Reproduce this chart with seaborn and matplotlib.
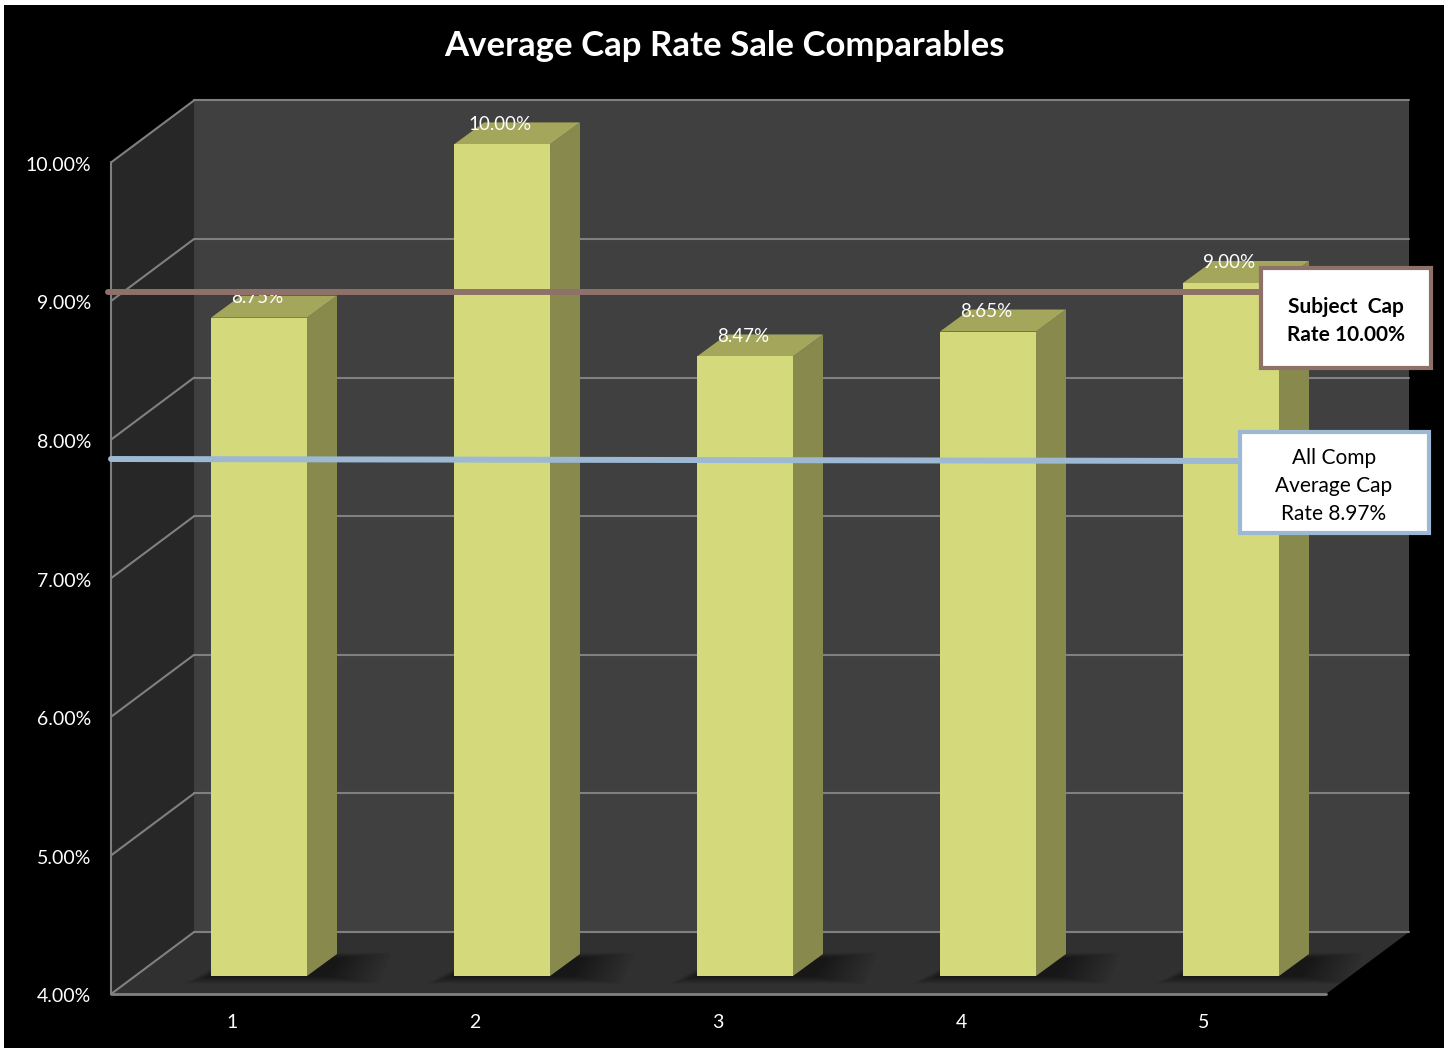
import numpy as np
import pandas as pd
import matplotlib
matplotlib.use("Agg")
import matplotlib.pyplot as plt
from matplotlib.patches import Polygon, Rectangle
from matplotlib.lines import Line2D
import seaborn as sns

# ---- data -------------------------------------------------------------
comps = ["1", "2", "3", "4", "5"]
cap_rates = [8.75, 10.00, 8.47, 8.65, 9.00]
subject_rate = 10.00
y_ticks = [4, 5, 6, 7, 8, 9, 10]
y_tick_labels = ["4.00%", "5.00%", "6.00%", "7.00%", "8.00%", "9.00%", "10.00%"]
title = "Average Cap Rate Sale Comparables"

# ---- styling ----------------------------------------------------------
sns.set_theme(style="white")
plt.rcParams["font.family"] = ["Lato", "DejaVu Sans"]

W, H, DPI = 1448, 1048, 100
FRONT_FACE = "#D4DA7B"
SIDE_FACE = "#878A4C"
TOP_FACE = "#A3A65B"
BACK_WALL = "#404040"
SIDE_WALL = "#272727"
FLOOR = "#303030"
GRID = "#808080"
SUBJ_COL = "#8E7169"
AVG_COL = "#9DB8D2"

# screen scale of the data plane that holds the bar fronts
X0_PX, X_STEP = 259.0, 243.0     # category 0 centre, pixels per category
Y0_PX, Y_STEP = 976.0, 138.6     # base value position, pixels per 1 %
BASE, TOP = 4.0, 10.0
WALL_LO, WALL_HI = -0.51, 4.49


def px(dx, dy_up):
    """Pixel offset -> data offset in the bar plane."""
    return dx / X_STEP, dy_up / Y_STEP


FRONT = px(-24, -18)   # front edge of the floor
BACK = px(59, 44)      # back wall
DEPTH = px(30, 22)     # bar depth

fig = plt.figure(figsize=(W / DPI, H / DPI), dpi=DPI, facecolor="white")
fig.patches.append(Rectangle((4 / W, 0), (1444 - 4) / W, 1 - 5 / H,
                             transform=fig.transFigure, facecolor="black",
                             edgecolor="none", zorder=-10))
ax = fig.add_axes([0, 0, 1, 1])
ax.set_facecolor("none")

df = pd.DataFrame({"comp": comps, "rate": cap_rates})
sns.barplot(data=df, x="comp", y="rate", color=FRONT_FACE, saturation=1,
            width=96 / X_STEP, edgecolor="none", ax=ax, zorder=3)

ax.set_xlim(-X0_PX / X_STEP, (W - X0_PX) / X_STEP)
ax.set_ylim(BASE - (H - Y0_PX) / Y_STEP, BASE + Y0_PX / Y_STEP)
ax.axis("off")

# ---- walls and floor --------------------------------------------------
fx, fy = FRONT
bx, by = BACK
ax.add_patch(Polygon([(WALL_LO + bx, BASE + by), (WALL_HI + bx, BASE + by),
                      (WALL_HI + bx, TOP + by), (WALL_LO + bx, TOP + by)],
                     closed=True, facecolor=BACK_WALL, edgecolor="none", zorder=0.5))
ax.add_patch(Polygon([(WALL_LO + fx, BASE + fy), (WALL_LO + bx, BASE + by),
                      (WALL_LO + bx, TOP + by), (WALL_LO + fx, TOP + fy)],
                     closed=True, facecolor=SIDE_WALL, edgecolor="none", zorder=0.5))
ax.add_patch(Polygon([(WALL_LO + fx, BASE + fy), (WALL_HI + fx, BASE + fy),
                      (WALL_HI + bx, BASE + by), (WALL_LO + bx, BASE + by)],
                     closed=True, facecolor=FLOOR, edgecolor="none", zorder=0.6))

for v in y_ticks:
    ax.plot([WALL_LO + bx, WALL_HI + bx], [v + by, v + by], color=GRID, lw=1.5, zorder=1)
    ax.plot([WALL_LO + fx, WALL_LO + bx], [v + fy, v + by], color=GRID, lw=1.5, zorder=1)
ax.plot([WALL_LO + fx, WALL_LO + fx], [BASE + fy, TOP + fy], color=GRID, lw=1.5, zorder=1)
ax.plot([WALL_LO + fx, WALL_HI + fx], [BASE + fy, BASE + fy], color=GRID, lw=2, zorder=1)

# ---- axis labels on the front plane -----------------------------------
for v, lab in zip(y_ticks, y_tick_labels):
    ax.text(WALL_LO + fx - 20 / X_STEP, v + fy - 3 / Y_STEP, lab, color="white",
            fontsize=14, ha="right", va="center")
for i, lab in enumerate(comps):
    ax.text(i + fx - 3 / X_STEP, BASE + fy - 29 / Y_STEP, lab, color="white",
            fontsize=14, ha="center", va="center")

# ---- bars: lift the base, then add shadow, side and top faces --------
ddx, ddy = DEPTH
front_rgb = matplotlib.colors.to_rgb(FRONT_FACE)
for p in list(ax.patches):
    if not isinstance(p, Rectangle) or tuple(p.get_facecolor()[:3]) != front_rgb:
        continue
    top = p.get_y() + p.get_height()
    p.set_y(BASE)
    p.set_height(top - BASE)
    x0 = p.get_x()
    x1 = x0 + p.get_width()
    # soft shadow on the floor, built from stacked translucent layers
    for k in range(1, 13):
        gx, gy = px(4.5 * k, 1.6 * k)
        ax.add_patch(Polygon([(x0 - gx * 0.5, BASE - gy * 0.4),
                              (x1 + ddx * 0.6 + gx, BASE - gy * 0.4),
                              (x1 + ddx + gx, BASE + ddy * 0.8 + gy * 0.3),
                              (x0 + ddx, BASE + ddy * 0.8 + gy * 0.3)],
                             closed=True, facecolor="black", alpha=0.045,
                             edgecolor="none", zorder=1.5))
    ax.add_patch(Polygon([(x1, BASE), (x1 + ddx, BASE + ddy), (x1 + ddx, top + ddy), (x1, top)],
                         closed=True, facecolor=SIDE_FACE, edgecolor="none", zorder=2.9))
    ax.add_patch(Polygon([(x0, top), (x1, top), (x1 + ddx, top + ddy), (x0 + ddx, top + ddy)],
                         closed=True, facecolor=TOP_FACE, edgecolor="none", zorder=2.9))
    ax.text((x0 + x1) / 2 - 2 / X_STEP, top + ddy - 2 / Y_STEP, f"{top:.2f}%", color="white",
            fontsize=13.5, ha="center", va="center", zorder=3.5)

# ---- title ------------------------------------------------------------
fig.text(724 / W, 1 - 46 / H, title, color="white", fontsize=25,
         fontweight="bold", ha="center", va="center")

# ---- callouts ---------------------------------------------------------
def fx_(x):
    return x / W


def fy_(y):
    return 1 - y / H


fig.lines.append(Line2D([fx_(108), fx_(1262)], [fy_(292), fy_(292)], color=SUBJ_COL,
                        lw=4.3, transform=fig.transFigure, zorder=20))
fig.lines.append(Line2D([fx_(111), fx_(1241)], [fy_(459), fy_(461)], color=AVG_COL,
                        lw=4.3, transform=fig.transFigure, zorder=20))

fig.patches.append(Rectangle((fx_(1261), fy_(368)), (1431 - 1261) / W, (368 - 268) / H,
                             transform=fig.transFigure, facecolor="white",
                             edgecolor=SUBJ_COL, lw=3, zorder=21))
fig.patches.append(Rectangle((fx_(1240), fy_(533)), (1429 - 1240) / W, (533 - 432) / H,
                             transform=fig.transFigure, facecolor="white",
                             edgecolor=AVG_COL, lw=3, zorder=21))

fig.text(fx_(1346), fy_(321), f"Subject  Cap\nRate {subject_rate:.2f}%", color="black",
         fontsize=15, fontweight="bold", ha="center", va="center",
         linespacing=1.55, zorder=22)
fig.text(fx_(1334), fy_(486), f"All Comp\nAverage Cap\nRate {np.mean(cap_rates):.2f}%",
         color="black", fontsize=15, ha="center", va="center",
         linespacing=1.5, zorder=22)

fig.savefig("out.png", dpi=DPI, facecolor=fig.get_facecolor())
